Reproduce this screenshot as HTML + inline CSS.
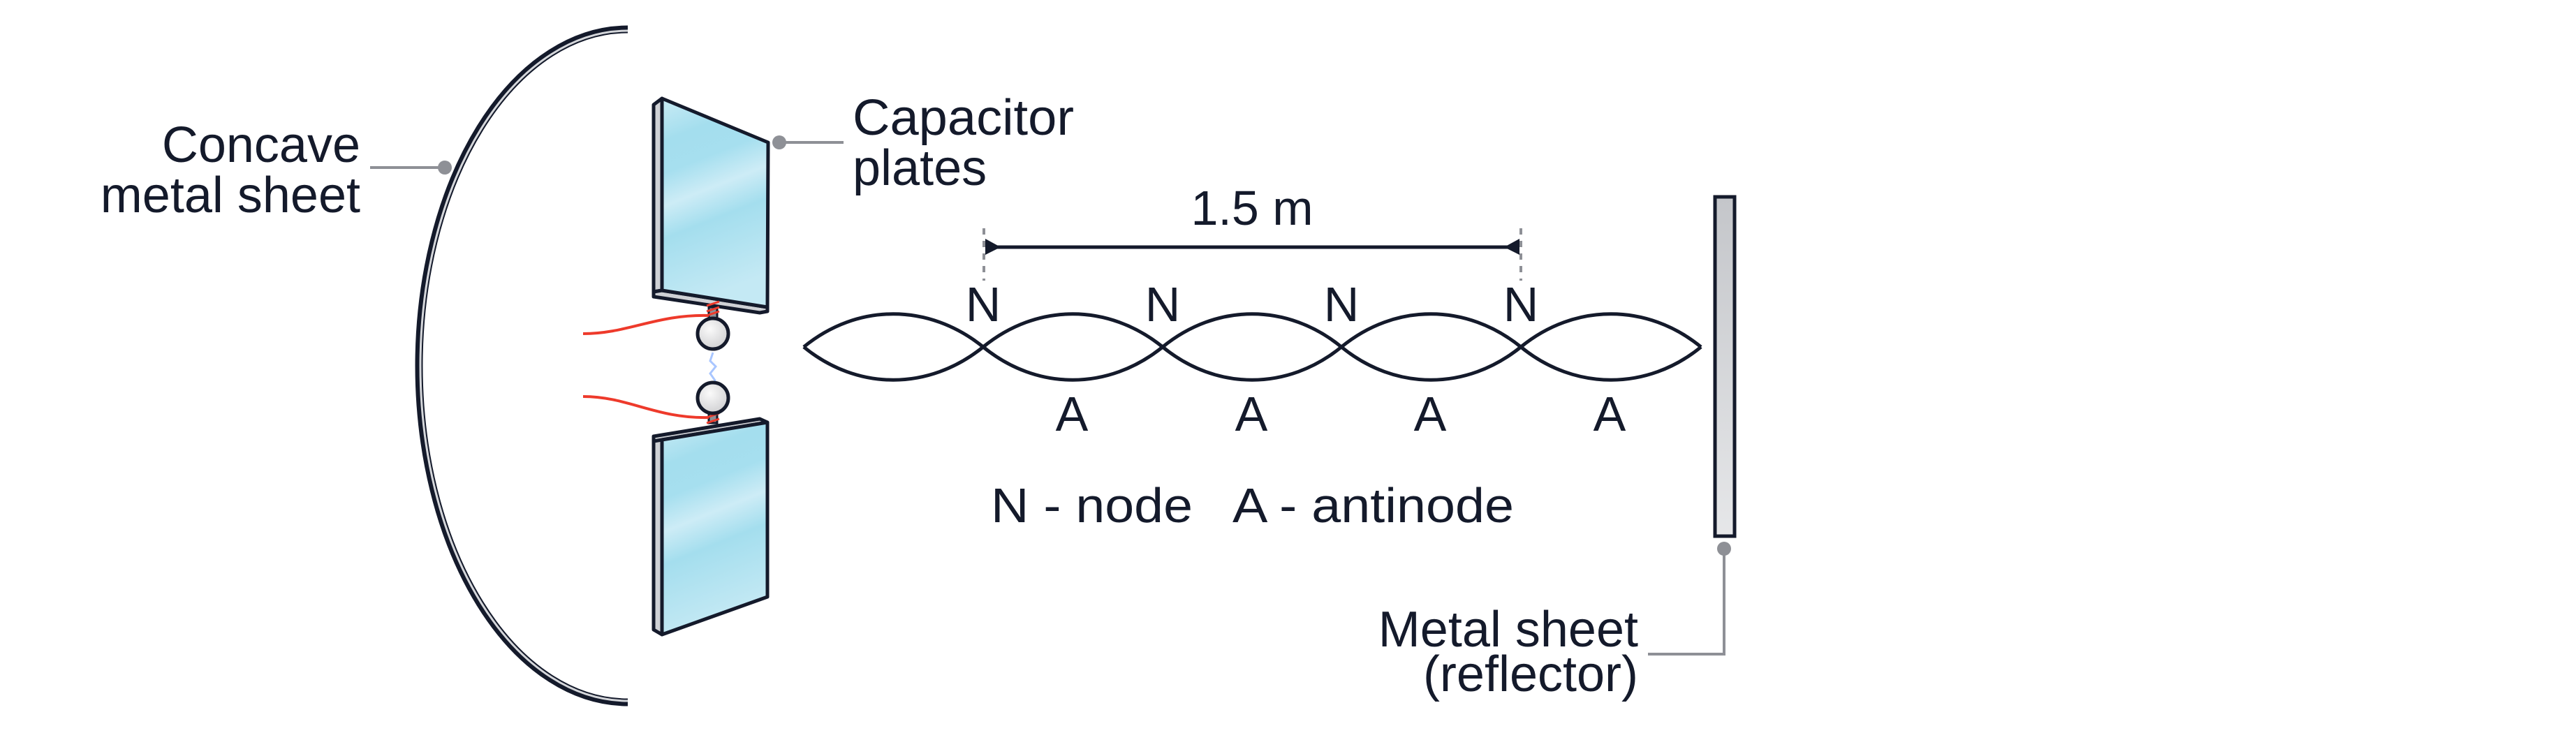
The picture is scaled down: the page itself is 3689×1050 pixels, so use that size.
<!DOCTYPE html>
<html><head><meta charset="utf-8"><style>html,body{margin:0;padding:0;background:#fff}svg{display:block}</style></head>
<body>
<svg width="3689" height="1050" viewBox="0 0 3689 1050" xmlns="http://www.w3.org/2000/svg" font-family="Liberation Sans, sans-serif" fill="#141a2b">
<defs>
<linearGradient id="pg" x1="0" y1="0" x2="0.2" y2="1">
<stop offset="0" stop-color="#c9ebf5"/><stop offset="0.2" stop-color="#a4deee"/><stop offset="0.35" stop-color="#a6dfef"/><stop offset="0.5" stop-color="#cdecf6"/><stop offset="0.65" stop-color="#a4deee"/><stop offset="1" stop-color="#c4e9f4"/>
</linearGradient>
<linearGradient id="rg" x1="0" y1="0" x2="0" y2="1"><stop offset="0" stop-color="#c4c6ca"/><stop offset="1" stop-color="#e6e7e9"/></linearGradient>
<radialGradient id="bg" cx="0.4" cy="0.35" r="0.7"><stop offset="0" stop-color="#fafafa"/><stop offset="1" stop-color="#cfcfd1"/></radialGradient>
</defs>

<!-- concave sheet -->
<path d="M899,42 A299,482 0 0 0 899,1006" fill="none" stroke="#141a2b" stroke-width="11"/>
<path d="M899,44 A297,480 0 0 0 899,1004" fill="none" stroke="#d4d6da" stroke-width="3"/>

<!-- Concave label -->
<text x="516" y="232" font-size="72" text-anchor="end">Concave</text>
<text x="516" y="304" font-size="72" text-anchor="end">metal sheet</text>
<line x1="530" y1="240" x2="636" y2="240" stroke="#8e9096" stroke-width="4"/>
<circle cx="637" cy="240" r="10" fill="#8e9096"/>

<!-- upper plate -->
<polygon points="936,150 948,141 948,416 936,418" fill="#cfd1d5" stroke="#141a2b" stroke-width="5" stroke-linejoin="round"/>
<polygon points="936,418 948,416 1099,440 1099,446 1088,448 936,425" fill="#cfd1d5" stroke="#141a2b" stroke-width="5" stroke-linejoin="round"/>
<polygon points="948,141 1100,204 1099,440 948,416" fill="url(#pg)" stroke="#141a2b" stroke-width="5" stroke-linejoin="round"/>
<!-- lower plate -->
<polygon points="936,632 948,627 948,909 936,902" fill="#cfd1d5" stroke="#141a2b" stroke-width="5" stroke-linejoin="round"/>
<polygon points="936,625 1088,600 1099,605 948,630 936,632" fill="#cfd1d5" stroke="#141a2b" stroke-width="5" stroke-linejoin="round"/>
<polygon points="948,630 1099,605 1099,855 948,909" fill="url(#pg)" stroke="#141a2b" stroke-width="5" stroke-linejoin="round"/>

<!-- stems -->
<rect x="1015" y="440" width="12" height="20" fill="#8e9096" stroke="#141a2b" stroke-width="3"/>
<rect x="1015" y="590" width="12" height="16" fill="#8e9096" stroke="#141a2b" stroke-width="3"/>
<path d="M1012,438 l18,-6 M1012,446 l18,-6 M1012,452 l18,-6 M1012,598 l18,-6 M1012,606 l18,-6" stroke="#ee3a2b" stroke-width="3"/>
<!-- wires -->
<path d="M835,478 C900,478 940,450 1015,452" fill="none" stroke="#ee3a2b" stroke-width="4"/>
<path d="M835,568 C900,568 940,600 1015,598" fill="none" stroke="#ee3a2b" stroke-width="4"/>
<!-- spark -->
<path d="M1021,505 l-4,12 l8,8 l-8,10 l7,10 l-3,10" fill="none" stroke="#a9c6ff" stroke-width="3"/>
<circle cx="1021" cy="478" r="22" fill="url(#bg)" stroke="#141a2b" stroke-width="5"/>
<circle cx="1021" cy="570" r="22" fill="url(#bg)" stroke="#141a2b" stroke-width="5"/>

<!-- Capacitor label -->
<circle cx="1116" cy="204" r="10" fill="#8e9096"/>
<line x1="1116" y1="204" x2="1208" y2="204" stroke="#8e9096" stroke-width="4"/>
<text x="1221" y="193" font-size="72" textLength="317" lengthAdjust="spacingAndGlyphs">Capacitor</text>
<text x="1221" y="265" font-size="72">plates</text>

<!-- wave -->
<g fill="none" stroke="#141a2b" stroke-width="5">
<path d="M1151,497 C1228,434 1330,434 1408,497 C1485,560 1587,560 1665,497 C1742,434 1844,434 1921,497 C1998,560 2100,560 2178,497 C2255,434 2359,434 2436,497"/>
<path d="M1151,497 C1228,560 1330,560 1408,497 C1485,434 1587,434 1665,497 C1742,560 1844,560 1921,497 C1998,434 2100,434 2178,497 C2255,560 2359,560 2436,497"/>
</g>

<!-- dimension -->
<line x1="1409" y1="327" x2="1409" y2="402" stroke="#8e9096" stroke-width="4" stroke-dasharray="9,9"/>
<line x1="2178" y1="327" x2="2178" y2="402" stroke="#8e9096" stroke-width="4" stroke-dasharray="9,9"/>
<line x1="1412" y1="354" x2="2175" y2="354" stroke="#141a2b" stroke-width="5"/>
<polygon points="1411,342 1433,354 1411,365" fill="#141a2b"/>
<polygon points="2176,342 2154,354 2176,365" fill="#141a2b"/>
<text x="1793" y="322" font-size="70" text-anchor="middle">1.5 m</text>

<g font-size="70" text-anchor="middle">
<text x="1408" y="460">N</text><text x="1665" y="460">N</text><text x="1921" y="460">N</text><text x="2178" y="460">N</text>
<text x="1535" y="617">A</text><text x="1792" y="617">A</text><text x="2048" y="617">A</text><text x="2305" y="617">A</text>
</g>
<text x="1419" y="748" font-size="70" textLength="289" lengthAdjust="spacingAndGlyphs">N - node</text>
<text x="1765" y="748" font-size="70" textLength="403" lengthAdjust="spacingAndGlyphs">A - antinode</text>

<!-- reflector -->
<rect x="2456" y="282" width="28" height="486" fill="url(#rg)" stroke="#141a2b" stroke-width="5"/>
<circle cx="2469" cy="786" r="10" fill="#8e9096"/>
<polyline points="2469,786 2469,937 2360,937" fill="none" stroke="#8e9096" stroke-width="4"/>
<text x="2346" y="926" font-size="72" text-anchor="end">Metal sheet</text>
<text x="2346" y="990" font-size="72" text-anchor="end">(reflector)</text>
</svg>
</body></html>
